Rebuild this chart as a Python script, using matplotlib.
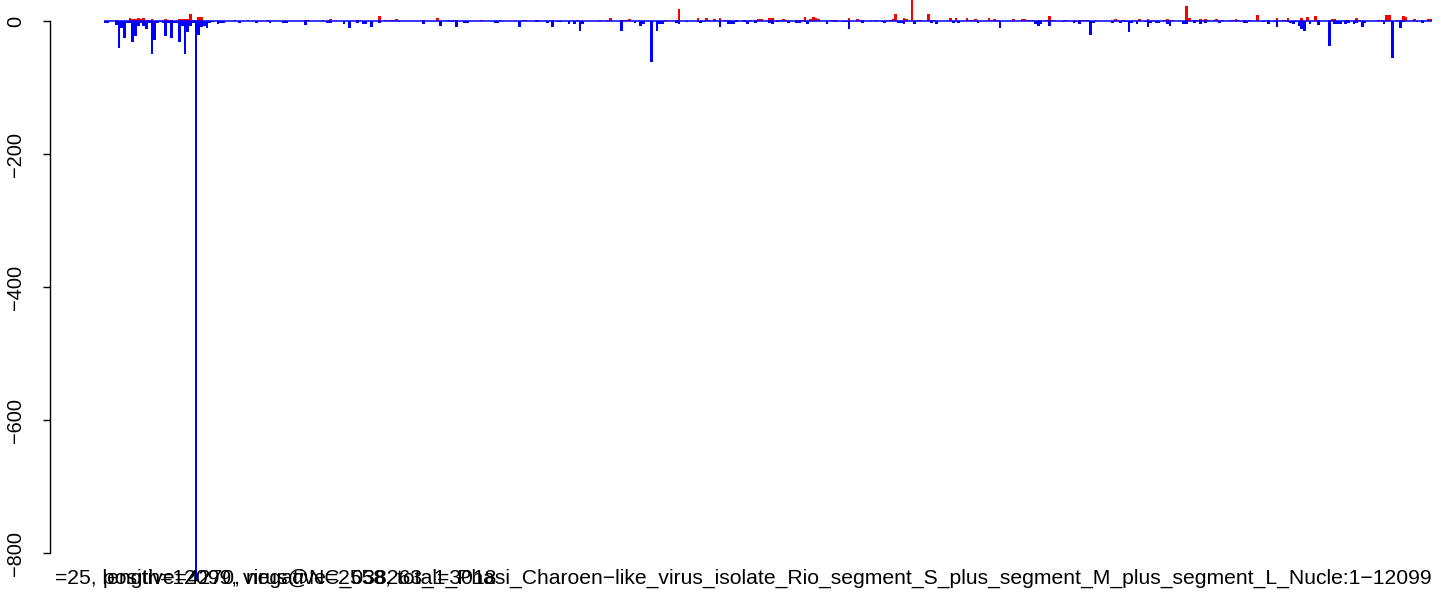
import matplotlib
matplotlib.use("Agg")
import matplotlib.pyplot as plt
import numpy as np

plt.rcParams['font.family'] = ['Liberation Sans', 'DejaVu Sans']

# window index (25 nt windows) and value
pos_bin = [4, 9, 10, 11, 12, 13, 14, 15, 16, 17, 22, 23, 24, 27, 28, 29, 30, 31, 32, 33, 34, 35,
           47, 52, 59, 73, 74, 79, 82, 92, 100, 102, 103, 104, 105, 106, 116, 121, 125, 127, 128,
           137, 144, 152, 153, 157, 158,
           163, 172, 180, 183, 184, 188, 189, 190, 191, 204, 208, 209, 216, 219, 220, 222, 224,
           226, 227, 230, 233, 235, 237, 238, 239, 242, 243, 245, 246, 247, 248, 252, 253, 254,
           255, 257, 258, 259, 260, 265, 266, 271, 274, 275, 276, 279, 281, 285, 286, 287, 288,
           291, 292, 294, 296, 297, 300, 301, 302, 308, 310, 314, 315, 316, 317, 322, 323, 324,
           325, 331, 334, 335, 336, 337, 338, 340, 341, 343, 344, 345, 346, 350, 353, 355, 356,
           357, 358, 361, 368, 369, 371, 377, 380, 382, 386, 387, 388, 389, 394, 395, 397, 398,
           399, 400, 401, 402, 404, 405, 407, 410, 411, 412, 413, 415, 417, 420, 424, 427, 429,
           430, 431, 436, 438, 441, 442, 446, 447, 448, 452, 453, 456, 457, 464, 465, 467, 468,
           471, 472, 473, 474, 477, 480, 482, 483]
pos_val = [1.5, 4.5, 2.5, 3.5, 4.5, 2.5, 4.5, 1.5, 2, 3, 3, 1.5, 1.5, 3, 3, 3, 3, 10.5, 1.5, 1.5, 6, 6,
           1.5, 1.5, 1.5, 1.5, 1.5, 1.5, 3, 1.5, 7.5, 1.5, 1.5, 1.5, 1.5, 3, 1.5, 4.5, 1.5, 1.5, 1.5,
           1.5, 1.5, 1.5, 1.5, 1.5, 1.5,
           1.5, 1.5, 1.5, 1.5, 4.5, 1.5, 1.5, 1.5, 3, 1.5, 2, 18, 4.5, 4.5, 1.5, 2.5, 4.5,
           1.5, 1.5, 1.5, 1.5, 1.5, 1.5, 3, 3, 4.5, 4.5, 1.5, 1.5, 3, 1.5, 1.5, 1.5, 1.5,
           6.5, 3, 6, 4.5, 2.5, 1.5, 1.5, 4.5, 3, 1.5, 1.5, 1.5, 1.5, 1.5, 1.5, 2.5, 11,
           4.5, 3, 35, 1.5, 1.5, 10.5, 1.5, 1.5, 4.5, 4.5, 4.5, 1.5, 1.5, 3, 4.5, 1.5, 3,
           1.5, 3, 3, 3, 1.5, 1.5, 1.5, 1.5, 1.5, 1.5, 7.5, 1.5, 1.5, 1.5, 1.5, 1.5, 1.5,
           1.5, 1.5, 1.5, 3, 1.5, 1.5, 3, 3, 1.5, 1.5, 3, 1.5, 1.5, 22.5, 4.5, 1.5, 1.5,
           3, 1.5, 3, 1.5, 1.5, 3, 1.5, 1.5, 1.5, 3, 1.5, 1.5, 1.5, 9, 1.5, 4.5, 1.5,
           1.5, 4.5, 4.5, 6, 7.5, 1.5, 1.5, 3, 3, 1.5, 1.5, 4.5, 1.5, 1.5, 1.5, 9, 9,
           1.5, 1.5, 7.5, 6, 3, 1.5, 3, 3]

neg_bin = [0, 1, 4, 5, 6, 7, 8, 9, 10, 11, 12, 13, 14, 15, 16, 17, 18, 19, 20, 21, 22, 23, 24, 25,
           26, 27, 28, 29, 30, 31, 32, 33, 34, 35, 36, 37, 38, 39, 41, 42, 43, 49, 55, 60, 65, 66,
           73, 81, 82, 87, 89, 92, 94, 95, 97, 100, 107, 116, 122, 126, 128, 131, 132, 142, 143,
           151, 157, 161,
           163, 165, 166, 169, 171, 173, 174, 188, 193, 195, 196, 199, 201, 202, 203, 208, 209,
           212, 216, 217, 218, 224, 227, 228, 229, 230, 233, 234, 237, 242, 243, 245, 249, 252,
           253, 255, 256, 263, 266, 269, 270, 271, 276, 283, 284, 289, 290, 291, 295, 301, 303,
           309, 311, 318,
           326, 339, 340, 341, 344, 349, 353, 354, 355, 359, 360, 367, 370, 372, 373, 374, 376,
           379, 380, 381, 383, 384, 387, 388, 393, 394, 397, 399, 401, 406, 415, 416, 422, 424,
           426, 427, 431, 432, 433, 434, 435, 436, 437, 439, 442, 446, 448, 449, 450, 452, 453,
           455, 456, 458, 459, 466, 469, 472, 473, 478, 480]
neg_val = [-2.5, -2.5, -6.5, -40, -11, -25, -3, -3, -31, -22, -7, -3, -7.5, -11.5, -3.5, -50, -28,
           -3.5, -1, -3.5, -22, -3.5, -25, -3.5, -2.5, -31, -7.5, -50, -16, -7, -3.5, -840, -20.5,
           -8.5, -7.5, -10, -3.5, -2, -4, -2.5, -2.5, -2.5, -2.5, -2.5, -2.5, -2.5,
           -5.5, -2.5, -2.5, -4.5, -10, -2.5, -4, -4, -8.5, -2.5, -2, -4, -7, -2, -8.5, -2.5, -2.5,
           -2.5, -2.5, -8.5, -2, -3,
           -9.5, -2, -2, -4, -4.5, -15, -5, -15, -3.5, -8, -5, -62, -15, -4, -4, -3, -5,
           -2, -2, -3.5, -2, -8.5, -4, -4, -4, -2, -2, -5, -2.5, -3, -5, -2, -2.5, -2.5,
           -2.5, -2, -4, -5, -2, -2, -2, -12, -2.5, -2, -3, -2.5, -2.5, -4, -4, -2.5, -4,
           -2.5, -2.5, -2.5,
           -10, -4, -7, -4, -7, -2, -2.5, -2, -4, -20.5, -2.5, -3.5, -2.5, -2, -16, -2.5, -5,
           -2, -8.5, -3, -2.5, -2.5, -4, -7, -5, -4, -2.5, -4, -2.5, -2.5, -2.5, -2.5, -2, -5,
           -2, -8.5, -2, -2.5, -4, -2, -8, -12.5, -14.5, -4, -5.5, -37, -5, -4, -4, -5, -2.5,
           -5, -2.5, -8.5, -3, -5, -55, -11, -2, -2, -2.5]

win = 25
genome_len = 12099
y_ticks = [0, -200, -400, -600, -800]

title_text = ("=25, length=12099, virus@NC_038263_1_Phasi_Charoen\u2212like_virus_isolate_Rio_"
              "segment_S_plus_segment_M_plus_segment_L_Nucle:1\u221212099")
count_text = "positive=4270, negative=2558, total=3018"

fig = plt.figure(figsize=(14.41, 5.92), dpi=100)
ax = fig.add_axes([0, 0, 1, 1])

ax.bar(np.array(pos_bin) * win, pos_val, width=win, align='edge', color='#ff0000', linewidth=0)
ax.bar(np.array(neg_bin) * win, neg_val, width=win, align='edge', color='#0000ff', linewidth=0)
ax.hlines(0, 0, genome_len, color='#0000ff', lw=1.1)

ax.set_xlim(-947.5, 12181)
ax.set_ylim(-858.6, 31.6)

for s in ['top', 'right', 'bottom']:
    ax.spines[s].set_visible(False)
ax.spines['left'].set_position(('data', -492))
ax.spines['left'].set_bounds(-800, 0)
ax.spines['left'].set_linewidth(1.0)
ax.set_xticks([])
ax.set_yticks(y_ticks)
ax.set_yticklabels([str(t).replace('-', '\u2212') for t in y_ticks], rotation=90,
                   va='center', ha='right', fontsize=14.4)
ax.tick_params(axis='y', length=5, width=1.0, pad=13)
ax.patch.set_visible(False)

# overlapping texts under the plot, as in the original
fig.text(1432 / 1441, 8 / 592, title_text, fontsize=15.2, ha='right', va='baseline')
fig.text(103 / 1441, 8 / 592, count_text, fontsize=15.2, ha='left', va='baseline')

fig.savefig('out.png', dpi=100)
